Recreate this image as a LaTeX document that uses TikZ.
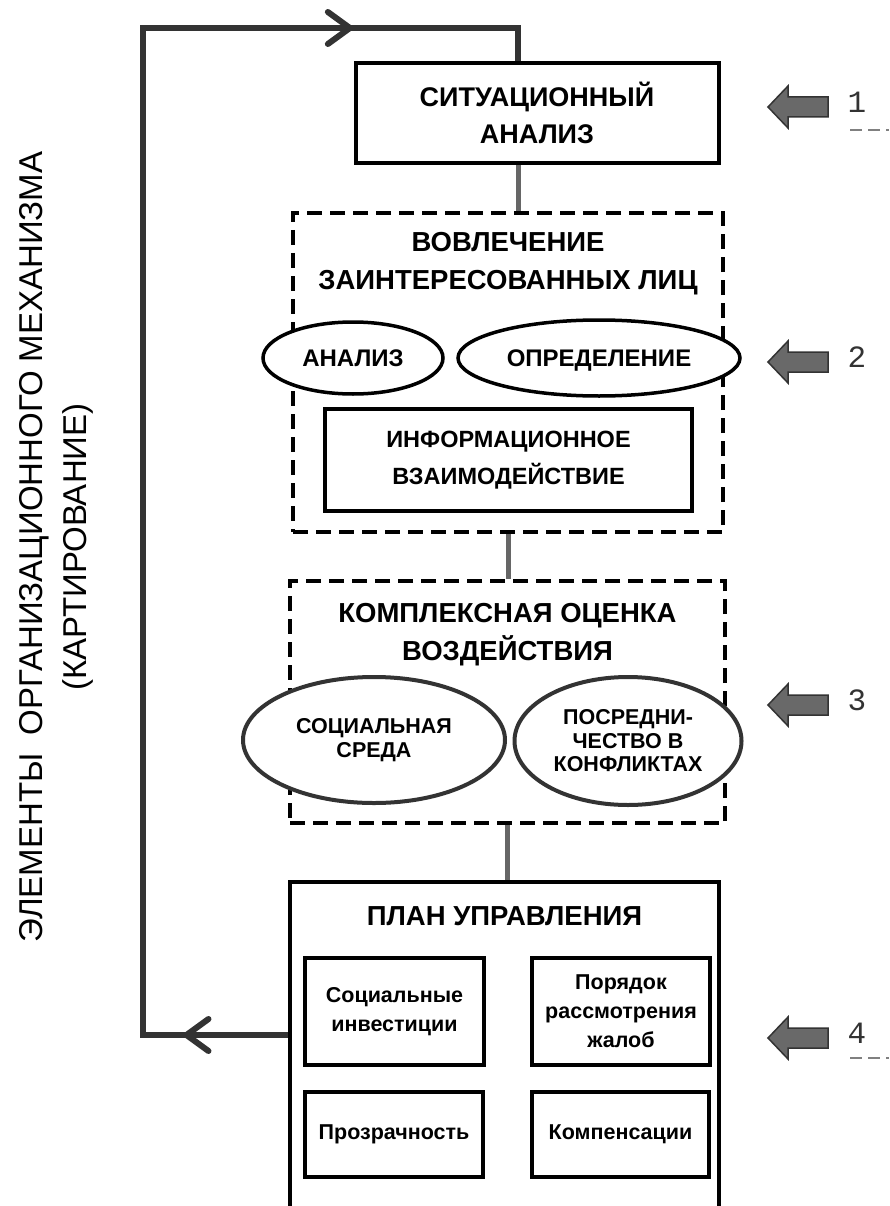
\documentclass[tikz,border=0pt]{standalone}
\usepackage{fontspec}
\setmainfont{Liberation Sans}
\newfontfamily\digitfont{Liberation Mono}
\usetikzlibrary{shapes.geometric,arrows.meta,decorations.markings}
\definecolor{linkgray}{HTML}{666666}
\definecolor{loopgray}{HTML}{333333}
\definecolor{arrowgray}{HTML}{696969}
\tikzstyle{box}=[draw, line width=4pt, inner sep=0, align=center, font=\bfseries\fontsize{27}{37}\selectfont]
\tikzstyle{smallbox}=[draw, line width=4.5pt, inner sep=0, align=center, font=\bfseries\fontsize{21.5}{29}\selectfont]
\tikzstyle{dbox}=[draw, line width=4pt, dash pattern=on 15pt off 8pt, inner sep=0]
\tikzstyle{title}=[inner sep=0, align=center, font=\bfseries\fontsize{27.5}{38}\selectfont]
\tikzstyle{oval}=[shape=ellipse, draw, fill=white, line width=3.5pt, inner sep=0, align=center, font=\bfseries\fontsize{24}{24}\selectfont]
\tikzstyle{link}=[draw=linkgray, line width=5pt]
\tikzstyle{barrow}=[fill=arrowgray, draw=loopgray, line width=1.5pt]
\tikzstyle{num}=[inner sep=0, text=loopgray, font=\digitfont\fontsize{31}{31}\selectfont]
\tikzstyle{fback}=[draw=loopgray, line width=6pt, postaction={decorate},
  decoration={markings,
    mark=at position 0.067 with {\arrow{Straight Barb[length=22pt,width=32pt,round]}},
    mark=at position 0.873 with {\arrow{Straight Barb[length=22pt,width=32pt,round]}}}]

\begin{document}
\begin{tikzpicture}[x=1pt,y=-1pt]
\useasboundingbox (0,0) rectangle (889,1206);
\clip (0,0) rectangle (889,1206);
\fill[white] (0,0) rectangle (889,1206);

% left caption
\node[rotate=90, align=center, inner sep=0, font=\fontsize{33}{44}\selectfont] (caption) at (56,547)
  {ЭЛЕМЕНТЫ\ \ ОРГАНИЗАЦИОННОГО МЕХАНИЗМА\\(КАРТИРОВАНИЕ)};

% 1
\node[box, minimum width=363pt, minimum height=100pt] (sit) at (537,113) {СИТУАЦИОННЫЙ\\АНАЛИЗ};

% 2
\node[dbox, minimum width=430pt, minimum height=319pt] (inv) at (508,372.5) {};
\node[title] (invt) at (508,264) {ВОВЛЕЧЕНИЕ\\ЗАИНТЕРЕСОВАННЫХ ЛИЦ};
\node[oval, minimum width=180pt, minimum height=72pt] (anl) at (353,358) {АНАЛИЗ};
\node[oval, text depth=0pt, minimum width=282pt, minimum height=76pt] (opr) at (599,358) {ОПРЕДЕЛЕНИЕ};
\node[box, font=\bfseries\fontsize{23.5}{37}\selectfont, minimum width=367pt, minimum height=102pt] (info) at (508.5,460) {ИНФОРМАЦИОННОЕ\\ВЗАИМОДЕЙСТВИЕ};

% 3
\node[dbox, minimum width=435pt, minimum height=242pt] (kov) at (507.5,702) {};
\node[title] (kovt) at (507.5,634.5) {КОМПЛЕКСНАЯ ОЦЕНКА\\ВОЗДЕЙСТВИЯ};
\node[oval, draw=loopgray, line width=4pt, font=\bfseries\fontsize{21.5}{23.5}\selectfont, minimum width=262pt, minimum height=126pt] (soc) at (374,740) {СОЦИАЛЬНАЯ\\СРЕДА};
\node[oval, draw=loopgray, line width=4pt, font=\bfseries\fontsize{21.5}{23.5}\selectfont, minimum width=227pt, minimum height=128pt] (pos) at (628,741) {ПОСРЕДНИ-\\ЧЕСТВО В\\КОНФЛИКТАХ};

% 4
\node[draw, line width=4pt, inner sep=0, minimum width=429pt, minimum height=356pt] (plan) at (504.5,1060) {};
\node[title] (plant) at (504.5,916) {ПЛАН УПРАВЛЕНИЯ};
\node[smallbox, minimum width=179pt, minimum height=107pt] (sinv) at (394.5,1011.5) {Социальные\\инвестиции};
\node[smallbox, minimum width=178pt, minimum height=107pt] (por) at (621,1011.5) {Порядок\\рассмотрения\\жалоб};
\node[smallbox, minimum width=178pt, minimum height=85pt] (prz) at (394,1134.5) {Прозрачность};
\node[smallbox, minimum width=177pt, minimum height=85pt] (kmp) at (620.5,1134.5) {Компенсации};

% links
\draw[link] ([xshift=-19pt]sit.south) -- ([xshift=-19pt]sit.south |- inv.north);
\draw[link] (inv.south) -- (inv.south |- kov.north);
\draw[link] (kov.south) -- (kov.south |- plan.north);

% feedback loop
\coordinate (corner1) at (143,1035);
\coordinate (corner2) at (143,28);
\coordinate (top) at (518,28);
\draw[fback] (plan.west |- corner1) -- (corner1) -- (corner2) -- (top) -- (top |- sit.north);

% stage arrows
\foreach \y/\n in {107/1,362/2,705/3,1038/4}{
  \draw[barrow] (768,\y) -- (788,\y-21) -- (788,\y-10) -- (828,\y-10) -- (828,\y+10) -- (788,\y+10) -- (788,\y+21) -- cycle;
  \node[num] (n\n) at (857,\y-5) {\n};
}
\draw[draw=gray, line width=1.2pt, dash pattern=on 12pt off 6pt] (850,130) -- (889,130);
\draw[draw=gray, line width=1.2pt, dash pattern=on 12pt off 6pt] (850,1058) -- (889,1058);
\end{tikzpicture}
\end{document}
